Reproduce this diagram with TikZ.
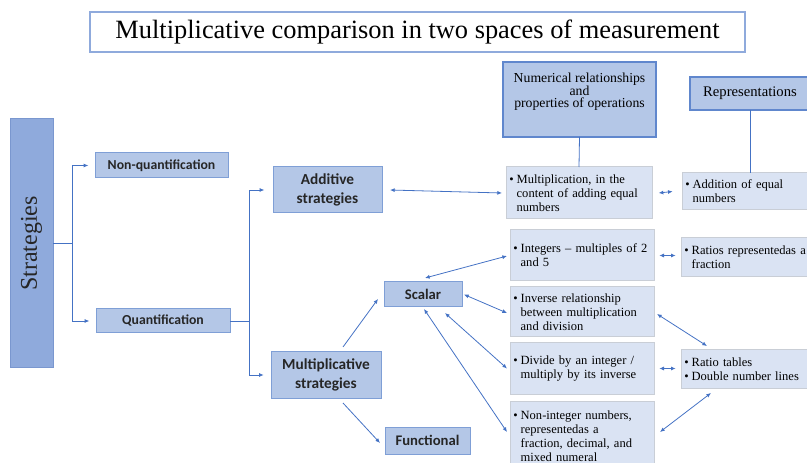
\documentclass[tikz,border=0pt]{standalone}
\usepackage{fontspec}
\setmainfont{Liberation Serif}
\newfontfamily\calfont{Carlito}
\usetikzlibrary{arrows.meta}
\definecolor{lineblue}{HTML}{4472C4}
\definecolor{midfill}{HTML}{B4C7E7}
\definecolor{midedge}{HTML}{7F9FD6}
\definecolor{darkfill}{HTML}{8FAADC}
\definecolor{darkedge}{HTML}{7A97CF}
\definecolor{lightfill}{HTML}{DAE3F3}
\definecolor{lightedge}{HTML}{C9CED6}
\newcommand\bul[1]{\noindent\hangindent=5.5pt\hangafter=1\makebox[5.5pt][l]{\textbullet}#1\par}
\tikzset{
  base/.style={inner sep=0pt, outer sep=0pt, line width=0.75pt},
  sbox/.style={base, draw=midedge, fill=midfill, align=center,
    font=\calfont\bfseries\fontsize{11.5}{14}\selectfont, text=black!85},
  hbox/.style={base, draw=lineblue!85, line width=1.1pt, fill=midfill, align=center},
  rbox/.style={base, draw=lightedge, fill=lightfill, align=left, inner xsep=2.5pt,
    font=\fontsize{9.4}{10.5}\selectfont},
  conn/.style={draw=lineblue, line width=0.6pt},
  tip/.style={-{Latex[length=3.5pt,width=3pt]}},
  tips/.style={{Latex[length=3.5pt,width=3pt]}-{Latex[length=3.5pt,width=3pt]}},
}
\begin{document}
\begin{tikzpicture}[x=0.75pt,y=-0.75pt]
\useasboundingbox (0,0) rectangle (807,463);
\clip (0,0) rectangle (807,463);
% title
\node[base, draw=darkfill, line width=1.2pt, fill=white, minimum width=491.25pt, minimum height=30pt,
  font=\fontsize{19.8}{22}\selectfont] (title) at (417.5,32) {Multiplicative comparison in two spaces of measurement};
% left column
\node[base, draw=darkedge, fill=darkfill, rotate=90, minimum width=186.75pt, minimum height=32.25pt,
  font=\fontsize{18}{20}\selectfont, text=black!85] (strat) at (31.5,243.5) {Strategies};
\node[sbox, minimum width=99.75pt, minimum height=18.75pt, font=\calfont\bfseries\fontsize{10.3}{12}\selectfont] (nonq) at (161.5,165.5) {Non-quantification};
\node[sbox, minimum width=100.5pt, minimum height=18pt, font=\calfont\bfseries\fontsize{10.3}{12}\selectfont] (quant) at (163,321) {Quantification};
\node[sbox, minimum width=81.75pt, minimum height=34.5pt] (add) at (327.5,190) {Additive\\strategies};
\node[sbox, minimum width=82.5pt, minimum height=34.5pt] (mult) at (326,375) {Multiplicative\\strategies};
\node[sbox, minimum width=58.5pt, minimum height=18.75pt, font=\calfont\bfseries\fontsize{11}{13}\selectfont] (scalar) at (423,294.5) {Scalar};
\node[sbox, minimum width=63.75pt, minimum height=20.25pt, font=\calfont\bfseries\fontsize{11}{13}\selectfont] (func) at (427.5,440.5) {Functional};
% headers
\node[hbox, minimum width=114.75pt, minimum height=56.25pt] (num) at (579.5,99.5)
  {\parbox[c][54pt][t]{112pt}{\centering\fontsize{10.3}{9.6}\selectfont\vspace*{7pt}Numerical relationships\\and\\properties of operations}};
\node[hbox, minimum width=90pt, minimum height=24.75pt, font=\fontsize{11}{12}\selectfont] (rep) at (750,93.5) {Representations};
% content boxes
\node[rbox, text width=104.5pt, minimum height=39pt] (multip) at (579,193)
  {\bul{Multiplication, in the\newline content of adding equal\newline numbers}};
\node[rbox, text width=97pt, minimum height=27.75pt] (addeq) at (750,191.5)
  {\bul{Addition of equal\newline numbers}};
\node[rbox, text width=103pt, minimum height=38.25pt] (integ) at (582,255.5)
  {\bul{Integers -- multiples of 2\newline and 5}};
\node[rbox, text width=99.25pt, minimum height=29.25pt] (ratios) at (750.5,257.5)
  {\bul{Ratios representedas a\newline fraction}};
\node[rbox, text width=103pt, minimum height=37.5pt] (inv) at (582,312)
  {\bul{Inverse relationship\newline between multiplication\newline and division}};
\node[rbox, text width=103pt, minimum height=38.25pt] (div) at (582,368.5)
  {\bul{Divide by an integer /\newline multiply by its inverse}};
\node[rbox, text width=99.25pt, minimum height=28.5pt] (rtab) at (750.5,369)
  {\bul{Ratio tables}\bul{Double number lines}};
\node[rbox, text width=103pt, minimum height=52.5pt] (nonint) at (582,436)
  {\bul{Non-integer numbers,\newline representedas a\newline fraction, decimal, and\newline mixed numeral}};
% tree connectors
\draw[conn] (strat.south) -- ++(19,0) coordinate (sj);
\draw[conn, tip, shorten >=5pt] (sj) |- (nonq.west);
\draw[conn, tip, shorten >=5pt] (sj) |- (quant.west);
\draw[conn] (quant.east) -- ++(19,0) coordinate (qj);
\draw[conn, tip, shorten >=6.5pt] (qj) |- (add.west);
\draw[conn, tip, shorten >=5.5pt] (qj) |- (mult.west);
% header stems
\draw[conn] (num.south) -- (multip.north);
\draw[conn] (rep.south) -- (addeq.north);
% horizontal double arrows
\draw[conn, tips] ([xshift=6]add.east) -- ([xshift=-3]multip.west);
\draw[conn, tips] ([xshift=5]multip.east) -- ([xshift=-7]addeq.west);
\draw[conn, tips] ([xshift=4]integ.east) -- ([xshift=-4]ratios.west |- integ.east);
\draw[conn, tips] ([xshift=4]div.east) -- ([xshift=-4]rtab.west |- div.east);
% multiplicative strategies
\draw[conn, tip] ([shift={(17,-5)}]mult.north) -- ([shift={(-6,4.5)}]scalar.west);
\draw[conn, tip] ([shift={(17,5)}]mult.south) -- ([shift={(-5,2.5)}]func.west);
% scalar links
\draw[conn, tips] ([shift={(2,-4)}]scalar.north) -- ([shift={(-3,0.5)}]integ.west);
\draw[conn, tips] ([shift={(2,0)}]scalar.east) -- ([shift={(-3,1)}]inv.west);
\draw[conn, tips] ([shift={(-17,6)}]scalar.south east) -- ([shift={(-3,0)}]div.west);
\draw[conn, tips] ([shift={(1,2)}]scalar.south) -- ([shift={(-3,-4)}]nonint.west);
% representation links
\draw[conn, tips] ([shift={(3,2)}]inv.east) -- ([shift={(26,-4)}]rtab.north west);
\draw[conn, tips] ([shift={(6,-4)}]nonint.east) -- ([shift={(30,5)}]rtab.south west);
\end{tikzpicture}
\end{document}
